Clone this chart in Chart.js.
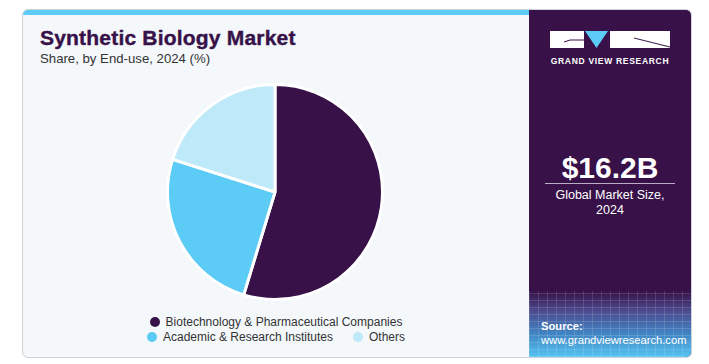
<!DOCTYPE html>
<html>
<head>
<meta charset="utf-8">
<script src="https://cdn.jsdelivr.net/npm/chart.js@4/dist/chart.umd.min.js"></script>
<style>
  body { margin: 0; width: 709px; height: 364px; background: #fff; font-family: "Liberation Sans", Arial, sans-serif; position: relative; overflow: hidden; }
  .card { position: absolute; left: 22px; top: 9px; width: 668px; height: 347px; border: 1px solid #cfd3d8; border-radius: 6px; background: #f4f8fb; overflow: hidden; }
  .topbar { position: absolute; left: 0; top: 0; width: 506px; height: 5px; background: #5ccbf5; }
  .side { position: absolute; left: 506px; top: 0; width: 162px; height: 347px; background: #371148; }
  .grid { position: absolute; left: 0; bottom: 0; width: 162px; height: 66px;
    background:
      repeating-linear-gradient(90deg, rgba(255,255,255,0.13) 0 1px, transparent 1px 9px),
      repeating-linear-gradient(0deg, rgba(255,255,255,0.13) 0 1px, transparent 1px 7px),
      linear-gradient(180deg, #371148 0%, #4c4a8e 30%, #4185c4 65%, #55c4f0 100%); }
  h1 { position: absolute; left: 17px; top: 16px; margin: 0; font-size: 21px; font-weight: 900; color: #371148; letter-spacing: 0.2px; -webkit-text-stroke: 0.4px #371148; }
  .sub { position: absolute; left: 17px; top: 41px; font-size: 13.2px; color: #333; }
  #wrap { position: absolute; left: 143px; top: 73px; width: 218px; height: 218px; }
  .legend { position: absolute; left: 0; width: 506px; text-align: center; font-size: 12px; color: #333; }
  .legend span.item { display: inline-block; margin: 0 10px; }
  .legend i { display: inline-block; width: 10px; height: 10px; border-radius: 50%; margin-right: 6px; vertical-align: -1px; }
  .big { position: absolute; left: 0; width: 162px; top: 141px; text-align: center; color: #fff; font-size: 30px; font-weight: bold; }
  .rule { position: absolute; left: 16px; width: 130px; top: 173px; height: 1px; background: #b9aec3; }
  .cap { position: absolute; left: 0; width: 162px; top: 178px; text-align: center; color: #fff; font-size: 12.5px; line-height: 15px; }
  .src { position: absolute; left: 12px; top: 309px; color: #fff; font-size: 11.2px; line-height: 14px; }
  .logo { position: absolute; left: 21px; top: 21px; }
  .logotext { position: absolute; left: 0; width: 162px; top: 46px; text-align: center; color: #fff; font-size: 8.5px; font-weight: bold; letter-spacing: 0.7px; }
</style>
</head>
<body>
<div class="card">
  <div class="topbar"></div>
  <h1>Synthetic Biology Market</h1>
  <div class="sub">Share, by End-use, 2024 (%)</div>
  <div id="wrap"><canvas id="pie"></canvas></div>
  <div class="legend" id="leg1" style="top:305px"></div>
  <div class="legend" id="leg2" style="top:320px"></div>
  <div class="side">
    <svg class="logo" width="122" height="20">
      <rect x="0" y="0" width="34" height="17" fill="#fff"/>
      <polyline points="14,11 20,9 34,9" fill="none" stroke="#371148" stroke-width="1"/>
      <polygon points="35,0 58,0 46.5,17" fill="#5ccbf5"/>
      <rect x="60" y="0" width="60" height="17" fill="#fff"/>
      <polyline points="84,7 120,16" fill="none" stroke="#371148" stroke-width="1"/>
    </svg>
    <div class="logotext">GRAND VIEW RESEARCH</div>
    <div class="big">$16.2B</div>
    <div class="rule"></div>
    <div class="cap">Global Market Size,<br>2024</div>
    <div class="grid"></div>
    <div class="src"><b>Source:</b><br>www.grandviewresearch.com</div>
  </div>
</div>
<script>
var labels = ["Biotechnology & Pharmaceutical Companies", "Academic & Research Institutes", "Others"];
var shares = [54.7, 25.2, 20.1];
var colors = ["#371148", "#5ccbf5", "#bde9f9"];

function legendItem(i) {
  return '<span class="item"><i style="background:' + colors[i] + '"></i>' + labels[i] + '</span>';
}
document.getElementById("leg1").innerHTML = legendItem(0);
document.getElementById("leg2").innerHTML = legendItem(1) + legendItem(2);

var ctx = document.getElementById("pie");
new Chart(ctx, {
  type: 'pie',
  data: {
    labels: labels,
    datasets: [{
      data: shares,
      backgroundColor: colors,
      borderColor: '#ffffff',
      borderWidth: 3
    }]
  },
  options: {
    responsive: true,
    maintainAspectRatio: false,
    animation: false,
    layout: { padding: 0 },
    plugins: {
      legend: { display: false },
      tooltip: { enabled: false }
    }
  }
});
</script>
</body>
</html>
